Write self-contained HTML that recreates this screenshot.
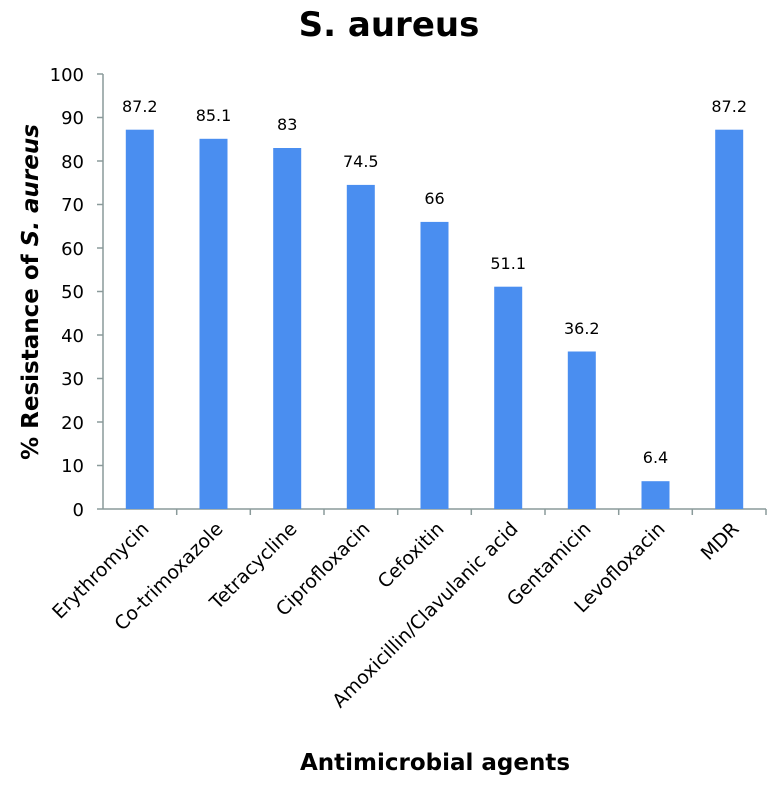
<!DOCTYPE html>
<html><head><meta charset="utf-8"><style>body{margin:0;background:#fff}</style></head>
<body>
<svg width="776" height="780" xmlns="http://www.w3.org/2000/svg" font-family="'DejaVu Sans', 'Liberation Sans', sans-serif">
<text x="389" y="36" text-anchor="middle" font-size="34" font-weight="bold">S. aureus</text>
<g stroke="#8a9a9a" stroke-width="1.5">
<line x1="103" y1="74" x2="103" y2="509"/>
<line x1="103" y1="509" x2="766" y2="509"/>
<line x1="97" y1="74" x2="103" y2="74"/><line x1="97" y1="117.5" x2="103" y2="117.5"/><line x1="97" y1="161" x2="103" y2="161"/><line x1="97" y1="204.5" x2="103" y2="204.5"/><line x1="97" y1="248" x2="103" y2="248"/><line x1="97" y1="291.5" x2="103" y2="291.5"/><line x1="97" y1="335" x2="103" y2="335"/><line x1="97" y1="378.5" x2="103" y2="378.5"/><line x1="97" y1="422" x2="103" y2="422"/><line x1="97" y1="465.5" x2="103" y2="465.5"/><line x1="97" y1="509" x2="103" y2="509"/>
<line x1="176.7" y1="509" x2="176.7" y2="515"/><line x1="250.3" y1="509" x2="250.3" y2="515"/><line x1="324" y1="509" x2="324" y2="515"/><line x1="397.7" y1="509" x2="397.7" y2="515"/><line x1="471.3" y1="509" x2="471.3" y2="515"/><line x1="545" y1="509" x2="545" y2="515"/><line x1="618.7" y1="509" x2="618.7" y2="515"/><line x1="692.3" y1="509" x2="692.3" y2="515"/><line x1="766" y1="509" x2="766" y2="515"/>
</g>
<g font-size="18" text-anchor="end" fill="#000">
<text x="84" y="81">100</text><text x="84" y="124">90</text><text x="84" y="168">80</text><text x="84" y="211">70</text><text x="84" y="255">60</text><text x="84" y="298">50</text><text x="84" y="342">40</text><text x="84" y="385">30</text><text x="84" y="429">20</text><text x="84" y="472">10</text><text x="84" y="516">0</text>
</g>
<g fill="#4a8ef0">
<rect x="125.8" y="129.7" width="28" height="379.3"/>
<rect x="199.5" y="138.8" width="28" height="370.2"/>
<rect x="273.2" y="148" width="28" height="361"/>
<rect x="346.8" y="184.9" width="28" height="324.1"/>
<rect x="420.5" y="221.9" width="28" height="287.1"/>
<rect x="494.2" y="286.7" width="28" height="222.3"/>
<rect x="567.8" y="351.5" width="28" height="157.5"/>
<rect x="641.5" y="481.2" width="28" height="27.8"/>
<rect x="715.2" y="129.7" width="28" height="379.3"/>
</g>
<g font-size="16" text-anchor="middle">
<text x="139.8" y="112">87.2</text><text x="213.5" y="121">85.1</text><text x="287.2" y="130">83</text><text x="360.8" y="167">74.5</text><text x="434.5" y="204">66</text><text x="508.2" y="269">51.1</text><text x="581.8" y="334">36.2</text><text x="655.5" y="463">6.4</text><text x="729.2" y="112">87.2</text>
</g>
<g font-size="19" text-anchor="end">
<text transform="translate(150,530) rotate(-45)">Erythromycin</text>
<text transform="translate(224,530) rotate(-45)">Co-trimoxazole</text>
<text transform="translate(298,530) rotate(-45)">Tetracycline</text>
<text transform="translate(371,530) rotate(-45)">Ciprofloxacin</text>
<text transform="translate(445,530) rotate(-45)">Cefoxitin</text>
<text transform="translate(519,530) rotate(-45)">Amoxicillin/Clavulanic acid</text>
<text transform="translate(592,530) rotate(-45)">Gentamicin</text>
<text transform="translate(666,530) rotate(-45)">Levofloxacin</text>
<text transform="translate(740,530) rotate(-45)">MDR</text>
</g>
<text transform="translate(38,292) rotate(-90)" text-anchor="middle" font-size="23" font-weight="bold">% Resistance of <tspan font-style="italic">S. aureus</tspan></text>
<text x="435" y="770" text-anchor="middle" font-size="23" font-weight="bold">Antimicrobial agents</text>
</svg>
</body></html>
